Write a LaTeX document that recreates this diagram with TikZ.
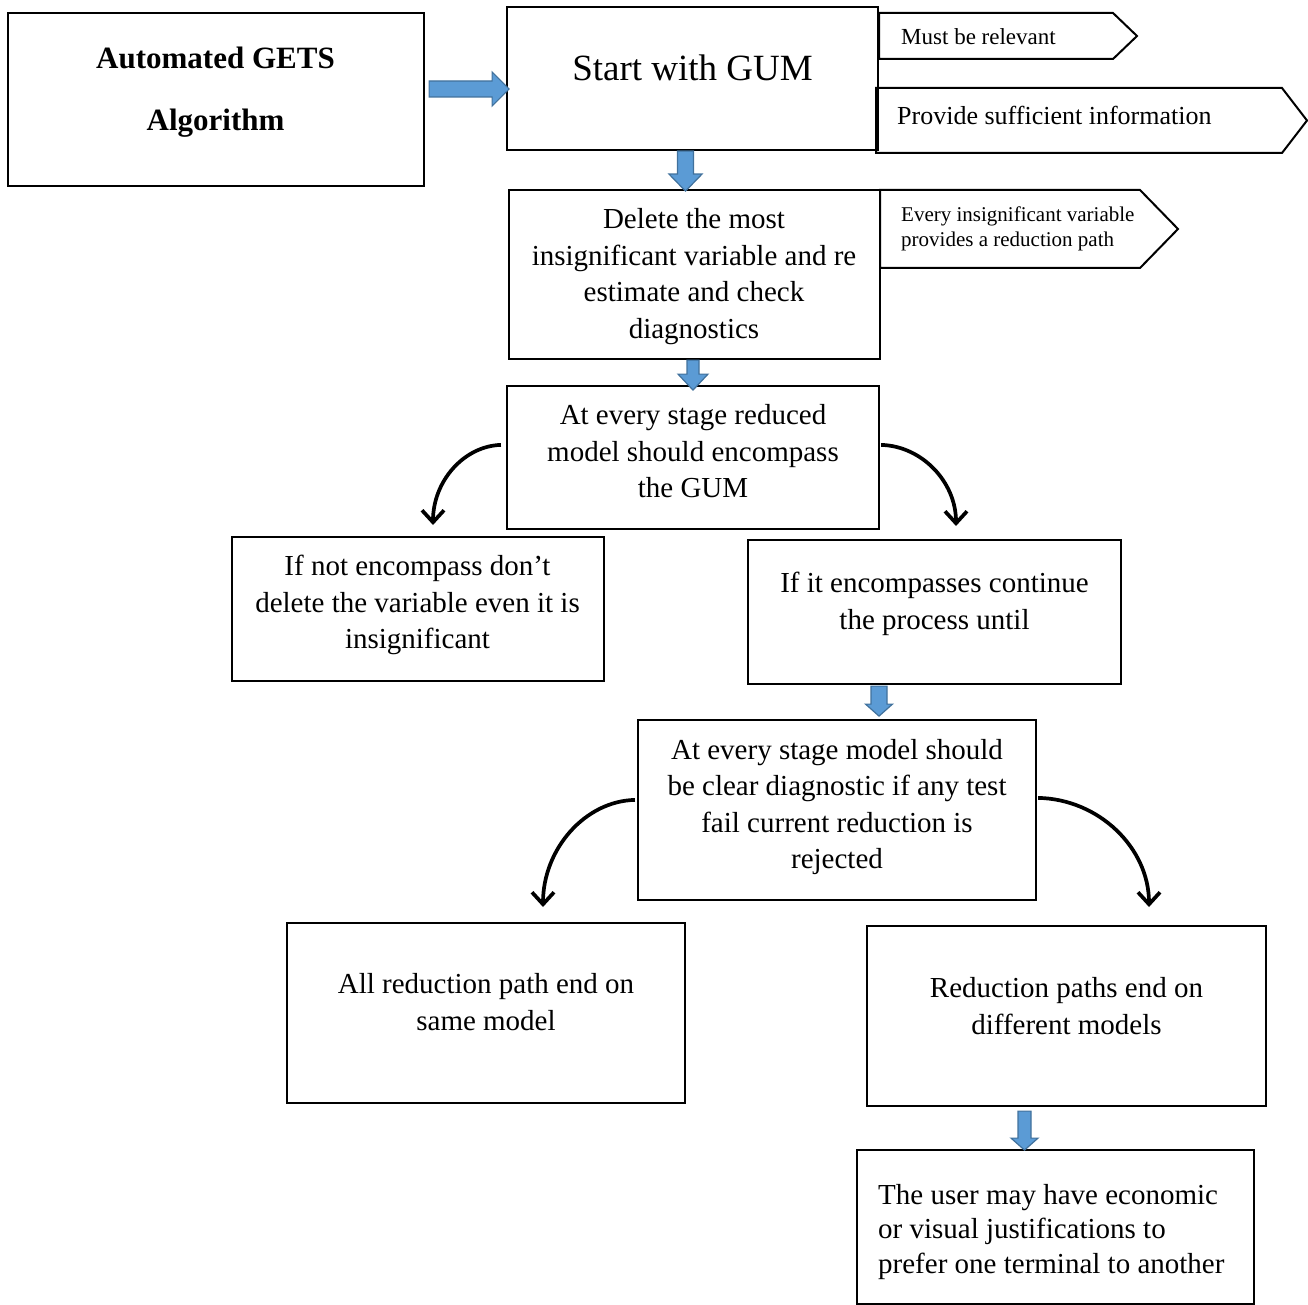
\documentclass[tikz,border=0pt]{standalone}
\usepackage{fontspec}
\setmainfont{Liberation Serif}
\usetikzlibrary{arrows.meta,calc}
\definecolor{arrowfill}{HTML}{5B9BD5}
\definecolor{arrowedge}{HTML}{41719C}

% block arrow pointing down: top centre, shaft half width, head half width, shaft length, head length
\newcommand{\blkdown}[5]{%
  \draw[blk] ($(#1)+(-#2,0)$) -- ++(0,#4) -- ++({#2-#3},0) -- ++(#3,#5)
    -- ++(#3,-#5) -- ++({#2-#3},0) -- ++(0,-#4) -- cycle;}

\begin{document}
\begin{tikzpicture}[x=1pt,y=-1pt,
  box/.style={draw, line width=2.2pt, inner sep=0pt},
  tag/.style={draw, line width=2pt, line join=miter},
  body/.style={font=\fontsize{29}{36.5}\selectfont, align=center, inner sep=0pt},
  blk/.style={fill=arrowfill, draw=arrowedge, line width=1.2pt, line join=miter},
  curvearrow/.style={line width=3.7pt, -{Straight Barb[length=12pt,width=22pt]}}]
\useasboundingbox (0,0) rectangle (1308,1305);

% boxes
\node[box, minimum width=416pt, minimum height=173pt] (A) at (216,99.5) {};
\node[box, minimum width=371pt, minimum height=143pt] (B) at (692.5,78.5) {};
\node[box, minimum width=371pt, minimum height=169pt] (C) at (694.5,274.5) {};
\node[box, minimum width=372pt, minimum height=143pt] (D) at (693,457.5) {};
\node[box, minimum width=372pt, minimum height=144pt] (E) at (418,609) {};
\node[box, minimum width=373pt, minimum height=144pt] (F) at (934.5,612) {};
\node[box, minimum width=398pt, minimum height=180pt] (G) at (837,810) {};
\node[box, minimum width=398pt, minimum height=180pt] (H) at (486,1013) {};
\node[box, minimum width=399pt, minimum height=180pt] (I) at (1066.5,1016) {};
\node[box, minimum width=397pt, minimum height=154pt] (J) at (1055.5,1227) {};

% texts of the boxes
\node[inner sep=0pt, align=center, font=\fontsize{31}{62}\selectfont\bfseries] (tA) at (215.5,92.5)
  {Automated GETS\\Algorithm};
\node[inner sep=0pt, anchor=base, font=\fontsize{37}{44}\selectfont] (tB) at (692.5,81)
  {Start with GUM};
\node[body] (tC) at (694,276.5)
  {Delete the most\\insignificant variable and re\\estimate and check\\diagnostics};
\node[body] (tD) at (693,451.5)
  {At every stage reduced\\model should encompass\\the GUM};
\node[body] (tE) at (417.5,605)
  {If not encompass don’t\\delete the variable even it is\\insignificant};
\node[body] (tF) at (934.5,604)
  {If it encompasses continue\\the process until};
\node[body] (tG) at (837,807)
  {At every stage model should\\be clear diagnostic if any test\\fail current reduction is\\rejected};
\node[body] (tH) at (486,1002)
  {All reduction path end on\\same model};
\node[body] (tI) at (1066.5,1006)
  {Reduction paths end on\\different models};
\node[body, align=left, anchor=west, font=\fontsize{29}{34.5}\selectfont] (tJ) at (878,1232)
  {The user may have economic\\or visual justifications to\\prefer one terminal to another};

% tags beside the boxes
\draw[tag] (879,13) -- (1113,13) -- (1137,36) -- (1113,59) -- (879,59) -- cycle;
\draw[tag] (876,88) -- (1282,88) -- (1307,120.5) -- (1282,153) -- (876,153) -- cycle;
\draw[tag] (880,190) -- (1140,190) -- (1178,229) -- (1140,268) -- (880,268) -- cycle;
\node[inner sep=0pt, anchor=base west, font=\fontsize{23}{28}\selectfont] (p1) at (901,45)
  {Must be relevant};
\node[inner sep=0pt, anchor=base west, font=\fontsize{26}{31}\selectfont] (p2) at (897,125)
  {Provide sufficient information};
\node[inner sep=0pt, anchor=west, align=left, font=\fontsize{21}{25}\selectfont] (p3) at (901,228.5)
  {Every insignificant variable\\provides a reduction path};

% block arrows
\draw[blk] ($(A.east)+(4,-18.5)$) -- ++(63,0) -- ++(0,-9) -- ++(17,17) -- ++(-17,17)
  -- ++(0,-9) -- ++(-63,0) -- cycle;
\coordinate (a1) at ($(B.south)+(-7,0)$);
\coordinate (a2) at ($(C.south)+(-1.5,0)$);
\coordinate (a3) at ($(F.south)+(-55.5,1)$);
\coordinate (a4) at ($(I.south)+(-42,4)$);
\blkdown{a1}{8}{16.5}{23}{17}
\blkdown{a2}{6}{15}{14}{16}
\blkdown{a3}{8}{13.5}{18}{12}
\blkdown{a4}{6.5}{13.5}{27}{12}

% curved arrows
\coordinate (dl) at ($(D.north west)+(-5,60)$);
\coordinate (dr) at ($(D.north east)+(1,60)$);
\coordinate (gl) at ($(G.north west)+(-2,81)$);
\coordinate (gr) at ($(G.north east)+(1,79)$);
\coordinate (el) at (433,525);
\coordinate (er) at (956,526);
\coordinate (hl) at (543,907);
\coordinate (ir) at (1149,907);
\draw[curvearrow] (dl) .. controls (464,446) and (433,481) .. (el);
\draw[curvearrow] (dr) .. controls (922,446) and (956,482) .. (er);
\draw[curvearrow] (gl) .. controls (585,801) and (543,849) .. (hl);
\draw[curvearrow] (gr) .. controls (1099,799) and (1149,848) .. (ir);
\end{tikzpicture}
\end{document}
